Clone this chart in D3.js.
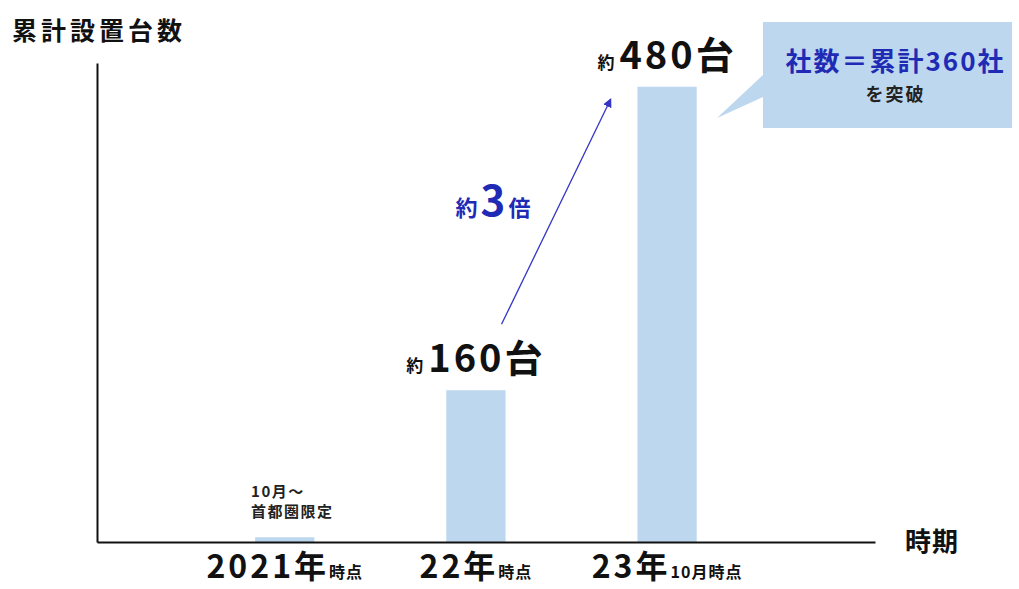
<!DOCTYPE html>
<html>
<head>
<meta charset="utf-8">
<script src="https://cdn.jsdelivr.net/npm/d3@7"></script>
<style>
    body { margin: 0; background: #fff; }
    text { font-family: "Noto Sans CJK JP", "Noto Sans", sans-serif; font-weight: 700; }
</style>
</head>
<body>
<svg id="chart"></svg>
<script>
// data
const categories = ["2021", "22", "23"];
const values = [5, 160, 480];
const tickMain = ["2021年", "22年", "23年"];
const tickSub = ["時点", "時点", "10月時点"];
const valueLabels = [null, "160台", "480台"];
const noteLines = ["10月～", "首都圏限定"];

const draw = () => {
    let svgWidth = 1019;
    let svgHeight = 589;
    let barColor = "#bdd7ee";
    let blue = "#1f2ab5";

    let svg = d3.select("#chart")
        .attr("width", svgWidth)
        .attr("height", svgHeight);

    // scales
    let x = d3.scaleBand()
        .domain(categories)
        .range([97, 875])
        .paddingInner(0.69)
        .paddingOuter(0.88)
        .align(0.47);
    let y = d3.scaleLinear().domain([0, 505]).range([542, 63]);

    // bars
    svg.selectAll(".bar")
        .data(categories)
        .enter()
        .append("rect")
        .attr("class", "bar")
        .attr("x", d => x(d))
        .attr("y", (d, i) => y(values[i]))
        .attr("width", x.bandwidth())
        .attr("height", (d, i) => y(0) - y(values[i]))
        .attr("fill", barColor);

    // axes
    let xAxis = svg.append("g")
        .attr("transform", "translate(0," + y(0) + ")")
        .call(d3.axisBottom(x).tickSize(0).tickFormat(""));
    xAxis.select(".domain").attr("stroke", "#111").attr("stroke-width", 2);

    let yAxis = svg.append("g")
        .attr("transform", "translate(" + 97 + ",0)")
        .call(d3.axisLeft(y).ticks(0).tickSize(0).tickSizeOuter(0));
    yAxis.select(".domain").attr("stroke", "#111").attr("stroke-width", 2);

    // tick labels (two sizes)
    xAxis.selectAll(".tick text").remove();
    xAxis.selectAll(".tick").each(function (d, i) {
        let t = d3.select(this).append("text")
            .attr("y", 36)
            .attr("text-anchor", "middle")
            .attr("fill", "#111");
        t.append("tspan").text(tickMain[i])
            .attr("font-size", "32px")
            .attr("letter-spacing", "3px");
        t.append("tspan").text(tickSub[i])
            .attr("font-size", "16px")
            .attr("letter-spacing", "1px");
    });

    // value labels
    svg.selectAll(".vlabel")
        .data(categories.filter((d, i) => valueLabels[i]))
        .enter()
        .append("text")
        .attr("class", "vlabel")
        .attr("x", d => x(d) + x.bandwidth() / 2)
        .attr("y", d => y(values[categories.indexOf(d)]) - 18)
        .attr("text-anchor", "middle")
        .attr("fill", "#111")
        .each(function (d) {
            let t = d3.select(this);
            t.append("tspan").text("約").attr("font-size", "17px");
            t.append("tspan").text(valueLabels[categories.indexOf(d)])
                .attr("dx", 5)
                .attr("font-size", "38px")
                .attr("letter-spacing", "3px");
        });

    // note above the 2021 bar
    svg.selectAll(".note")
        .data(noteLines)
        .enter()
        .append("text")
        .attr("class", "note")
        .attr("x", x("2021") - 4)
        .attr("y", (d, i) => y(values[0]) - 40 + i * 20)
        .attr("font-size", "15px")
        .attr("letter-spacing", "1.5px")
        .attr("fill", "#222")
        .text(d => d);

    // axis titles
    svg.append("text")
        .attr("x", 12)
        .attr("y", 40)
        .attr("font-size", "25px")
        .attr("letter-spacing", "4px")
        .attr("fill", "#111")
        .text("累計設置台数");
    svg.append("text")
        .attr("x", 905)
        .attr("y", 551)
        .attr("font-size", "26px")
        .attr("letter-spacing", "1px")
        .attr("fill", "#111")
        .text("時期");

    // growth arrow
    svg.append("defs").append("marker")
        .attr("id", "head")
        .attr("viewBox", "0 0 10 10")
        .attr("refX", 8)
        .attr("refY", 5)
        .attr("markerWidth", 7)
        .attr("markerHeight", 7)
        .attr("orient", "auto")
        .append("path")
        .attr("d", "M0,0 L10,5 L0,10 z")
        .attr("fill", "#3535c5");

    let x0 = x("22") + x.bandwidth() - 4;
    let y0 = y(values[1]) - 66;
    let x1 = x("23") - 27;
    let y1 = y(values[2]) + 13;
    svg.append("line")
        .attr("x1", x0).attr("y1", y0)
        .attr("x2", x1).attr("y2", y1)
        .attr("stroke", "#3535c5")
        .attr("stroke-width", 1.3)
        .attr("marker-end", "url(#head)");

    let times = svg.append("text")
        .attr("x", 493)
        .attr("y", 216)
        .attr("text-anchor", "middle")
        .attr("fill", blue);
    times.append("tspan").text("約").attr("font-size", "22px");
    times.append("tspan").text("3").attr("font-size", "42px").attr("dx", "3");
    times.append("tspan").text("倍").attr("font-size", "22px").attr("dx", "3");

    // callout
    let bx = 763, by = 22, bw = 249, bh = 106;
    svg.append("path")
        .attr("d", "M" + bx + "," + 75 + " L" + 717 + "," + 118 + " L" + bx + "," + 97 + " Z")
        .attr("fill", barColor);
    svg.append("rect")
        .attr("x", bx).attr("y", by)
        .attr("width", bw).attr("height", bh)
        .attr("fill", barColor);
    svg.append("text")
        .attr("x", bx + bw / 2 + 8)
        .attr("y", 71)
        .attr("text-anchor", "middle")
        .attr("font-size", "26px")
        .attr("letter-spacing", "2px")
        .attr("fill", blue)
        .text("社数＝累計360社");
    svg.append("text")
        .attr("x", bx + bw / 2 + 8)
        .attr("y", 101)
        .attr("text-anchor", "middle")
        .attr("font-size", "18px")
        .attr("letter-spacing", "2px")
        .attr("fill", "#222")
        .text("を突破");
};

draw();
</script>
</body>
</html>
